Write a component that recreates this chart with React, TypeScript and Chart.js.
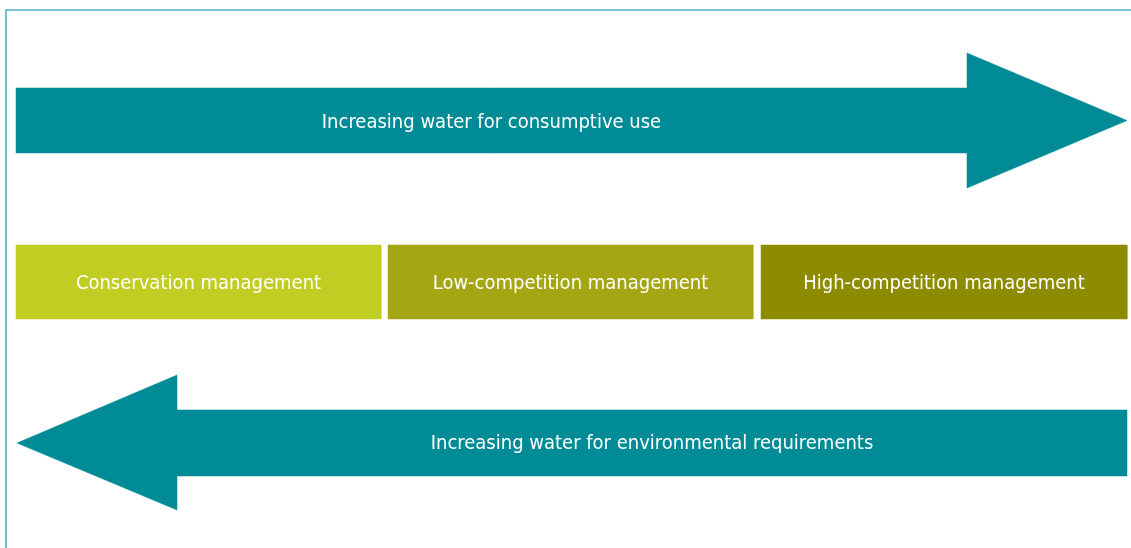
import React, { useEffect, useRef } from "react";
import { Chart, registerables } from "chart.js";

Chart.register(...registerables);

// Diagram coordinates (pixels of a 1131 x 548 drawing)
const frameX = [6, 6, 1131];
const frameY = [548, 10, 10];

const topArrowX = [16, 967, 967, 1127, 967, 967, 16, 16];
const topArrowY = [88, 88, 53, 120.5, 188, 153, 153, 88];

const bottomArrowX = [1127, 177, 177, 17, 177, 177, 1127, 1127];
const bottomArrowY = [410, 410, 375, 443, 510, 476, 476, 410];

const boxStarts = [16, 388, 761];
const boxEnds = [381, 753, 1127];
const boxTop = 245;
const boxBottom = 319;
const boxLabels = ["Conservation management", "Low-competition management", "High-competition management"];
const boxColors = ["#c2cd23", "#a4a614", "#8d8c00"];

const arrowLabels = ["Increasing water for consumptive use", "Increasing water for environmental requirements"];
const arrowLabelX = [491.5, 652];
const arrowLabelY = [123, 444];

const TEAL = "#008b96";

function toPoints(xs: number[], ys: number[]) {
  return xs.map((x, i) => ({ x, y: ys[i] }));
}

export default function App() {
  const ref = useRef<HTMLCanvasElement | null>(null);
  useEffect(() => {
    document.body.style.margin = "0";
    const canvas = ref.current;
    if (!canvas) return;

    const shapeDs = (data: any[], color: string) => ({
      type: "line" as const,
      data,
      showLine: true,
      fill: "shape",
      backgroundColor: color,
      borderColor: color,
      borderWidth: 0.5,
      pointRadius: 0,
      tension: 0,
    });

    const datasets: any[] = [
      {
        type: "line",
        data: toPoints(frameX, frameY),
        showLine: true,
        fill: false,
        borderColor: "#4fb2be",
        borderWidth: 1.6,
        pointRadius: 0,
      },
      shapeDs(toPoints(topArrowX, topArrowY), TEAL),
      shapeDs(toPoints(bottomArrowX, bottomArrowY), TEAL),
      ...boxStarts.map((s, i) =>
        shapeDs(
          toPoints([s, boxEnds[i], boxEnds[i], s, s], [boxTop, boxTop, boxBottom, boxBottom, boxTop]),
          boxColors[i]
        )
      ),
    ];

    const textPlugin = {
      id: "diagramText",
      afterDatasetsDraw(chart: any) {
        const { ctx, scales } = chart;
        const xs = scales.x;
        const ys = scales.y;
        ctx.save();
        ctx.fillStyle = "#ffffff";
        ctx.textAlign = "center";
        ctx.textBaseline = "middle";
        ctx.font = "500 20px 'Liberation Sans Narrow', 'DejaVu Sans Condensed', sans-serif";
        arrowLabels.forEach((t, i) => {
          ctx.fillText(t, xs.getPixelForValue(arrowLabelX[i]), ys.getPixelForValue(arrowLabelY[i]));
        });
        boxLabels.forEach((t, i) => {
          const cx = (boxStarts[i] + boxEnds[i]) / 2;
          const cy = (boxTop + boxBottom) / 2 + 1.5;
          ctx.fillText(t, xs.getPixelForValue(cx), ys.getPixelForValue(cy));
        });
        ctx.restore();
      },
    };

    const chart = new Chart(canvas, {
      type: "scatter",
      data: { datasets },
      options: {
        animation: false,
        responsive: false,
        maintainAspectRatio: false,
        layout: { padding: 0 },
        plugins: { legend: { display: false }, tooltip: { enabled: false } },
        scales: {
          x: { type: "linear", min: 0, max: 1131, display: false },
          y: { type: "linear", min: 0, max: 548, reverse: true, display: false },
        },
        elements: { line: { tension: 0 } },
      },
      plugins: [textPlugin],
    });
    return () => chart.destroy();
  }, []);

  return (
    <div style={{ width: 1131, height: 548, background: "#ffffff" }}>
      <canvas ref={ref} width={1131} height={548} style={{ display: "block" }} />
    </div>
  );
}
